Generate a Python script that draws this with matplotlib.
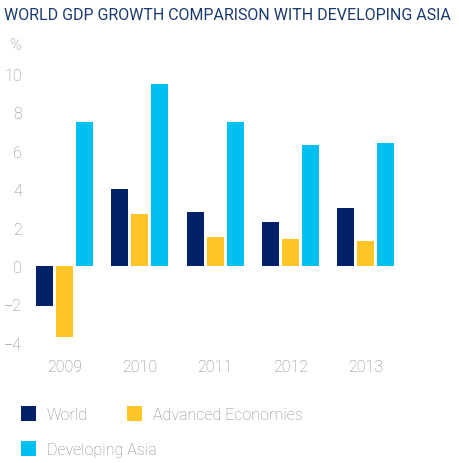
import numpy as np
import matplotlib
matplotlib.use("Agg")
import matplotlib.pyplot as plt
from matplotlib.patches import Rectangle

# GDP growth, % per year
years = ["2009", "2010", "2011", "2012", "2013"]
world = [-2.1, 4.0, 2.8, 2.3, 3.0]
advanced = [-3.7, 2.7, 1.5, 1.4, 1.3]
dev_asia = [7.5, 9.5, 7.5, 6.3, 6.4]

series_names = ["World", "Advanced Economies", "Developing Asia"]
colors = ["#022169", "#FFC425", "#00BFF3"]

W, H = 459, 464
fig = plt.figure(figsize=(W / 100, H / 100), dpi=100)

def px(x, y):
    return x / W, 1 - y / H

tick_font = dict(family=["Roboto", "DejaVu Sans"], weight="light", size=11.5, color="#878787")

# axes box placed in pixel terms
left, right, top, bottom = 30, 440, 60, 350
ax = fig.add_axes([left / W, 1 - bottom / H, (right - left) / W, (bottom - top) / H])

x = np.arange(len(years))
bw = 0.226
step = 0.266
for i, (vals, c) in enumerate(zip([world, advanced, dev_asia], colors)):
    ax.bar(x + (i - 1) * step, vals, width=bw, color=c, linewidth=0)

ax.set_xlim((left - 64.5) / 75.3, (right - 64.5) / 75.3)
ax.set_ylim((267 - bottom) / 19.2, (267 - top) / 19.2)
ax.set_yticks([-4, -2, 0, 2, 4, 6, 8, 10])
ax.set_xticks(x)
ax.set_xticklabels(years)
ax.tick_params(length=0, pad=6)
ax.tick_params(axis="x", pad=7.5)
for lab in ax.get_xticklabels() + ax.get_yticklabels():
    lab.set_fontfamily(tick_font["family"])
    lab.set_fontweight("light")
    lab.set_fontsize(tick_font["size"])
    lab.set_color(tick_font["color"])
for s in ax.spines.values():
    s.set_visible(False)

fig.text(*px(4, 15), "WORLD GDP GROWTH COMPARISON WITH DEVELOPING ASIA",
         family=["Roboto", "DejaVu Sans"], size=11.5,
         color="#1B3A6E", ha="left", va="center")
fig.text(*px(15, 45), "%", ha="center", va="center", **tick_font)

# legend drawn by hand: two items on the first row, one below
legend_pos = [(21, 407), (127, 407), (21, 442)]
for name, c, (lx, ly) in zip(series_names, colors, legend_pos):
    fx, fy = px(lx, ly + 15)
    fig.patches.append(Rectangle((fx, fy), 15 / W, 15 / H, transform=fig.transFigure,
                                 facecolor=c, linewidth=0))
    fig.text(*px(lx + 26, ly + 9), name, ha="left", va="center", **tick_font)

fig.savefig("out.png", dpi=100)
